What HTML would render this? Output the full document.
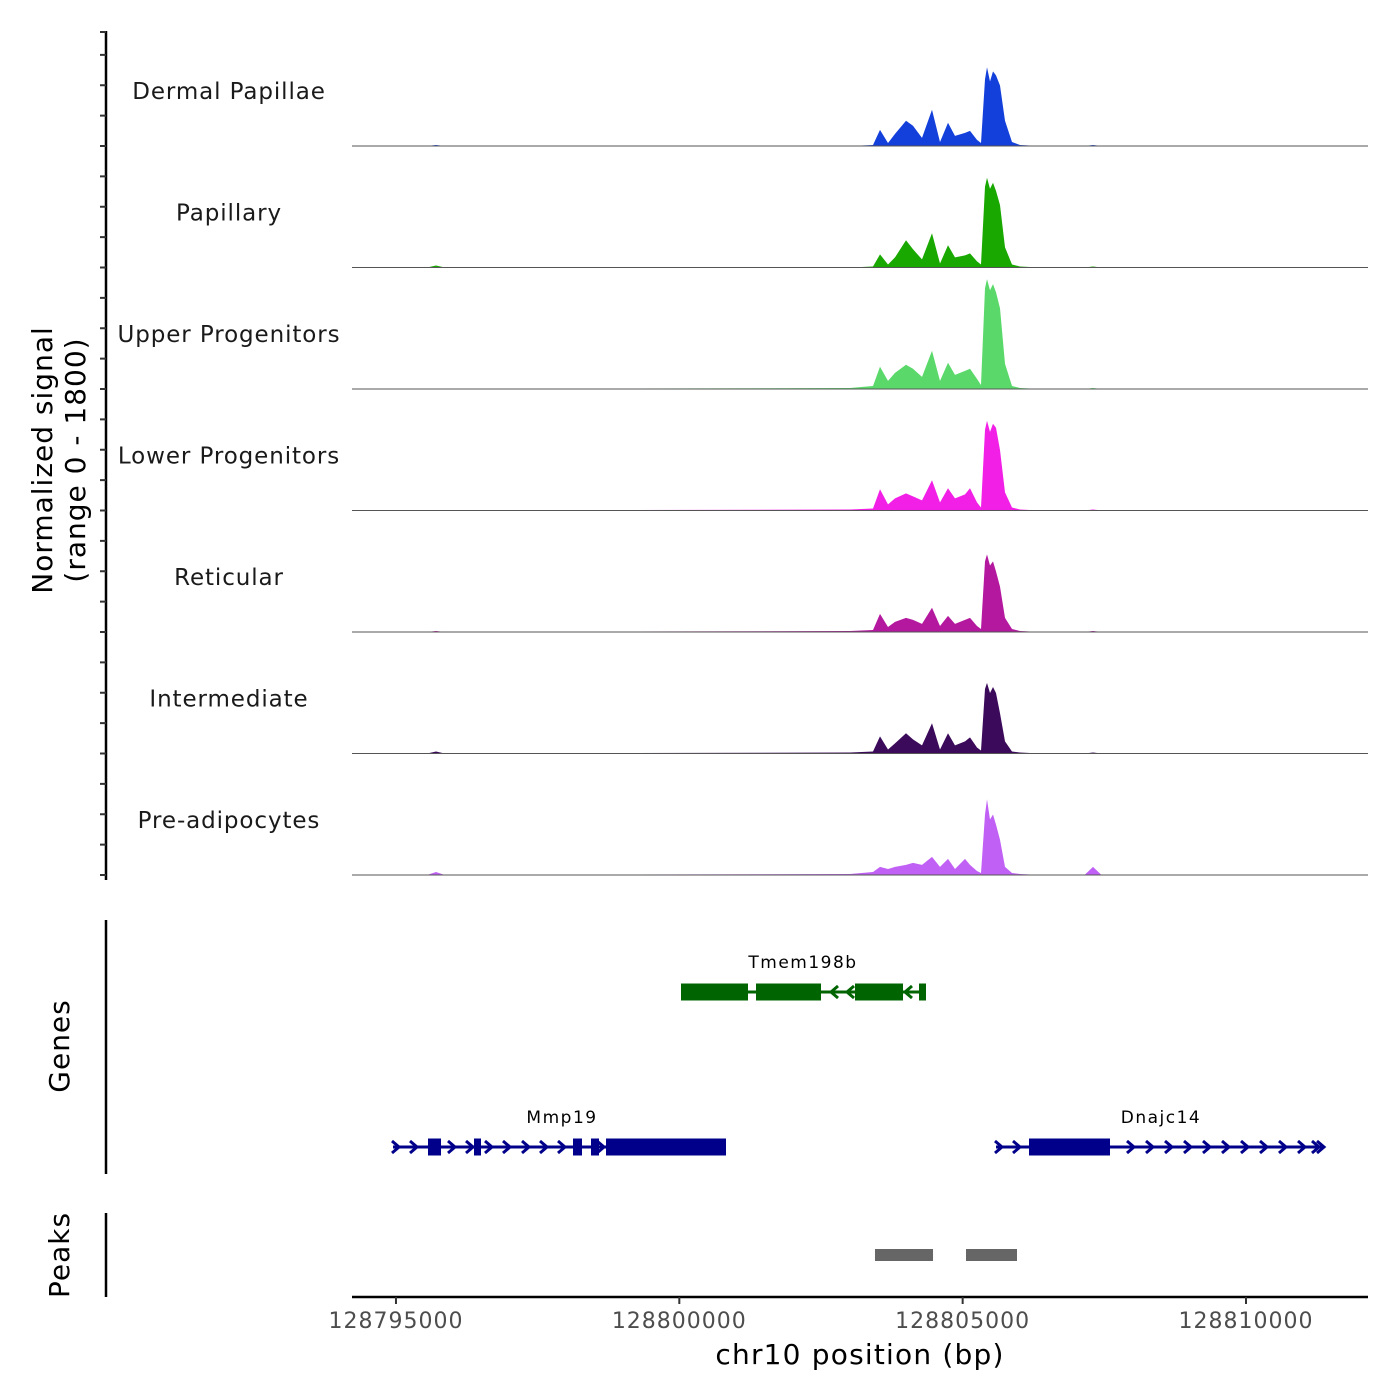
<!DOCTYPE html>
<html><head><meta charset="utf-8"><style>
body{margin:0;background:#fff}
svg{display:block;font-family:"DejaVu Sans","Liberation Sans",sans-serif}
</style></head><body>
<svg id="c" width="1400" height="1400" viewBox="0 0 1400 1400" xmlns="http://www.w3.org/2000/svg"></svg>
<script>
const trackNames=["Dermal Papillae","Papillary","Upper Progenitors","Lower Progenitors","Reticular","Intermediate","Pre-adipocytes"];
const trackColors=["#1340db","#19a800","#5ad96a","#f21fe6","#b3189f","#3b0a5a","#c160f5"];
const positions=[128794224,128795550,128795706,128795860,128803012,128803418,128803542,128803683,128803806,128804000,128804124,128804283,128804459,128804600,128804742,128804865,128805042,128805130,128805253,128805324,128805395,128805430,128805483,128805536,128805589,128805659,128805748,128805871,128806012,128806365,128807150,128807300,128807450,128812153];
const sigDP=[0,0,15,0,0,15,240,45,180,375,300,120,540,60,345,150,195,225,90,45,990,1170,960,1110,1050,900,375,60,15,0,0,15,0,0];
const sigPap=[0,0,30,0,0,15,195,45,150,405,270,120,510,60,330,150,180,210,90,45,1200,1335,1170,1260,1140,930,300,45,15,0,0,15,0,0];
const sigUp=[0,0,0,0,15,45,330,120,240,360,300,180,570,120,390,210,270,300,150,60,1500,1635,1470,1560,1440,1200,375,45,15,0,0,15,0,0];
const sigLow=[0,0,0,0,15,30,315,90,180,255,210,150,450,120,330,180,240,330,120,45,1200,1335,1170,1290,1230,900,270,45,15,0,0,15,0,0];
const sigRet=[0,0,15,0,15,30,270,75,150,210,180,120,360,90,240,120,180,210,90,45,1050,1155,990,1050,900,675,210,45,15,0,0,15,0,0];
const sigInt=[0,0,30,0,15,30,255,60,150,300,210,120,450,60,300,120,180,240,90,45,960,1050,900,990,900,600,180,30,15,0,0,15,0,0];
const sigPre=[0,0,45,0,15,45,120,90,120,150,180,150,270,120,240,90,240,150,60,30,900,1125,825,900,750,525,120,30,15,0,0,120,0,0];
const signals=[sigDP,sigPap,sigUp,sigLow,sigRet,sigInt,sigPre];
const xTicks=[128795000,128800000,128805000,128810000];
const peakStarts=[128803453,128805059];
const peakEnds=[128804477,128805959];
const X0=128794224,X1=128812153,PX0=352,PX1=1368;
function x(bp){return PX0+(bp-X0)/(X1-X0)*(PX1-PX0);}
const TH=121.5,B0=146,YMAX=1800;
function base(i){return B0+i*TH;}
function y(i,v){return base(i)-v/YMAX*(TH-0.5);}
const svg=document.getElementById('c');
const NS="http://www.w3.org/2000/svg";
function el(t,a,p){const e=document.createElementNS(NS,t);for(const k in a)e.setAttribute(k,a[k]);(p||svg).appendChild(e);return e;}
function txt(s,a,p){const e=el('text',a,p);e.textContent=s;return e;}

for(let i=0;i<7;i++){
  const g=el('g',{});
  
  
  let d='M'+x(positions[0])+','+base(i);
  for(let j=0;j<positions.length;j++)d+=' L'+x(positions[j]).toFixed(1)+','+y(i,signals[i][j]).toFixed(1);
  d+=' L'+x(positions[positions.length-1])+','+base(i)+'Z';
  const a=el('path',{d:d,fill:trackColors[i]},g);
  
  
  const l=el('line',{x1:PX0,x2:PX1,y1:base(i),y2:base(i),stroke:'#555','stroke-width':1},g);
  
  
  const t=txt(trackNames[i],{x:229,y:base(i)-47,'text-anchor':'middle','font-size':23,'letter-spacing':0.9,fill:'#1a1a1a'},g);
  
  
}
const ax=el('g',{});


el('line',{x1:106,x2:106,y1:31,y2:880,stroke:'#000','stroke-width':2.5},ax);
for(let i=0;i<7;i++)for(let k=0;k<4;k++){const yy=base(i)-k*TH/4;if(yy<31)continue;el('line',{x1:100,x2:106,y1:yy,y2:yy,stroke:'#333','stroke-width':2},ax);}
el('line',{x1:100,x2:106,y1:32,y2:32,stroke:'#333','stroke-width':2},ax);
const yt=el('g',{transform:'translate(0,460) rotate(-90)'});


txt('Normalized signal',{x:0,y:52,'text-anchor':'middle','font-size':28,'letter-spacing':1,fill:'#000'},yt);
txt('(range 0 - 1800)',{x:0,y:85,'text-anchor':'middle','font-size':28,'letter-spacing':1,fill:'#000'},yt);

const gp=el('g',{});


el('line',{x1:106,x2:106,y1:920,y2:1174,stroke:'#000','stroke-width':2.5},gp);
txt('Genes',{x:0,y:0,transform:'translate(69,1046) rotate(-90)','text-anchor':'middle','font-size':28,'letter-spacing':1,fill:'#000'},gp);
function gene(name,y0,lx1,lx2,exons,arrows,dir,col,lbx){
  const g=el('g',{},gp);
  
  
  el('line',{x1:lx1,x2:lx2,y1:y0,y2:y0,stroke:col,'stroke-width':3},g);
  exons.forEach(e=>el('rect',{x:e[0],y:y0-e[2]/2,width:e[1]-e[0],height:e[2],fill:col},g));
  arrows.forEach(a=>el('polyline',{points:`${a-dir*4},${y0-6} ${a+dir*3},${y0} ${a-dir*4},${y0+6}`,fill:'none',stroke:col,'stroke-width':3},g));
  txt(name,{x:lbx,y:y0-24,'text-anchor':'middle','font-size':17,'letter-spacing':1.5,fill:'#000'},g);
}
gene('Tmem198b',992,681,926,[[681,748,17],[756,821,17],[855,903,17],[919,926,17]],[834,850,908],-1,'#006400',803);
gene('Mmp19',1147,393,726,[[428,441,17],[474,481,17],[573,582,17],[591,599,17],[606,726,17]],[396,414,452,470,489,507,526,544,562,601],1,'#00008b',562);
gene('Dnajc14',1147,996,1324,[[1029,1110,17]],[999,1017,1131,1150,1169,1188,1207,1226,1245,1264,1283,1302,1316,1321],1,'#00008b',1161);

const pk=el('g',{});


el('line',{x1:106,x2:106,y1:1213,y2:1297,stroke:'#000','stroke-width':2.5},pk);
txt('Peaks',{x:0,y:0,transform:'translate(69,1255) rotate(-90)','text-anchor':'middle','font-size':28,'letter-spacing':1,fill:'#000'},pk);
for(let i=0;i<peakStarts.length;i++){
  const r=el('rect',{x:x(peakStarts[i]),y:1249,width:x(peakEnds[i])-x(peakStarts[i]),height:12,fill:'#666'},pk);
  
  
}
const xa=el('g',{});


el('line',{x1:PX0,x2:PX1,y1:1297,y2:1297,stroke:'#000','stroke-width':2.5},xa);
xTicks.forEach(t=>{el('line',{x1:x(t),x2:x(t),y1:1297,y2:1304,stroke:'#333','stroke-width':2},xa);
  const l=txt(String(t),{x:x(t),y:1328,'text-anchor':'middle','font-size':22,'letter-spacing':1,fill:'#4d4d4d'},xa);
  
  });
const xt=txt('chr10 position (bp)',{x:860,y:1364,'text-anchor':'middle','font-size':28,'letter-spacing':1.2,fill:'#000'});


</script>
</body></html>
